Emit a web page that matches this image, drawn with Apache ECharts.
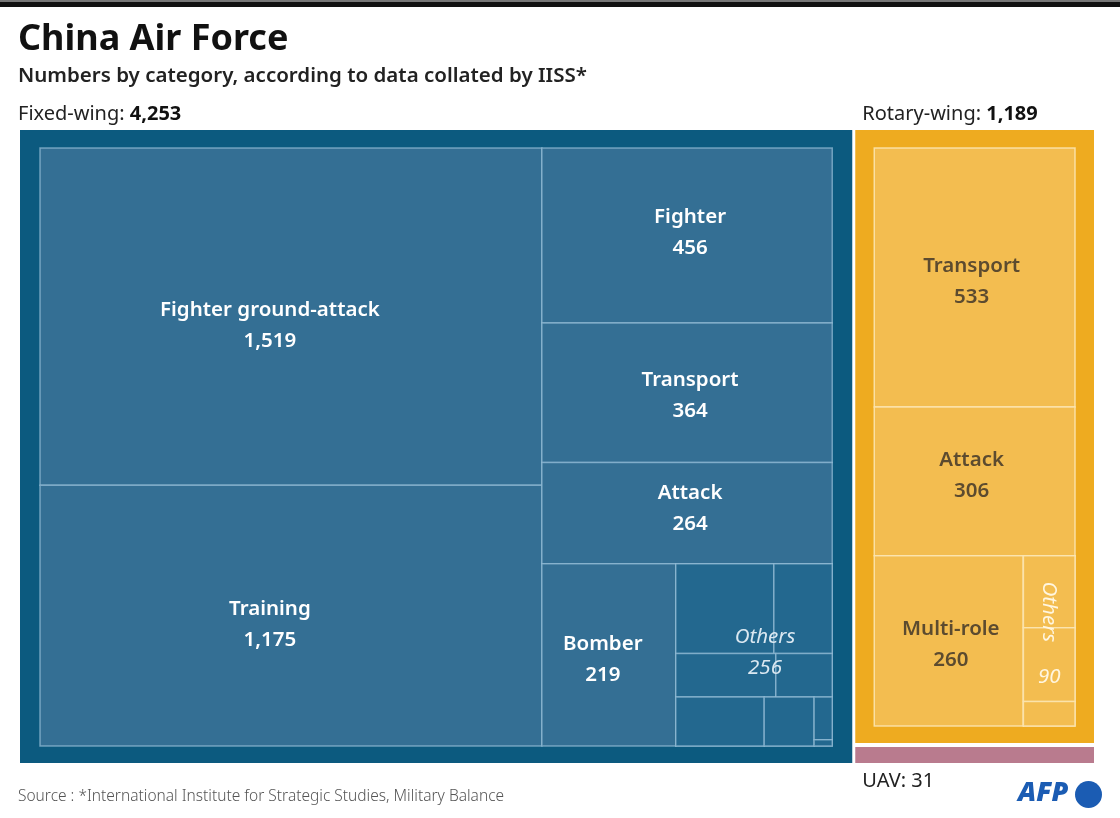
<!DOCTYPE html>
<html>
<head>
<meta charset="utf-8">
<script src="https://cdn.jsdelivr.net/npm/echarts@6/dist/echarts.min.js"></script>
<style>
  html, body { margin: 0; padding: 0; background: #ffffff; }
  #chart { width: 1120px; height: 818px; }
</style>
</head>
<body>
<div id="chart"></div>
<script>
// ---------------- DATA ----------------
const groupNames = ['Fixed-wing', 'Rotary-wing', 'UAV'];
const groupValues = [4253, 1189, 31];

const fixedNames = ['Fighter ground-attack', 'Training', 'Fighter', 'Transport', 'Attack', 'Bomber', 'Others'];
const fixedValues = [1519, 1175, 456, 364, 264, 219, 256];
const fixedOthersParts = [79, 47, 39, 22, 39, 22, 7, 1];

const rotaryNames = ['Transport', 'Attack', 'Multi-role', 'Others'];
const rotaryValues = [533, 306, 260, 90];
const rotaryOthersParts = [38, 39, 13];

// ---------------- STYLES ----------------
const C = {
  fixedFrame: '#0c5a7f',
  fixedCell: '#346f94',
  fixedSub: '#23688f',
  fixedLine: 'rgba(150,190,215,0.7)',
  rotFrame: '#eeab20',
  rotCell: '#f3bd50',
  rotLine: 'rgba(252,230,180,0.85)',
  uav: '#b97b8e',
  fixedText: '#ffffff',
  othersText: '#dbe8f1',
  rotText: '#5c4b2f',
  rotOthersText: '#fff6e0'
};
const FONT = '"Noto Sans", "Open Sans", sans-serif';
const LABEL_SIZE = 20.5;
const fmt = v => v.toLocaleString('en-US');

// ---------------- TREE (structure only; values come from arrays) ----------------
function leaf(value, style, label) { return { value, style, label }; }
function box(dir, children, opts) { return Object.assign({ dir, children }, opts || {}); }

const fixedCellStyle = { fill: C.fixedCell, stroke: C.fixedLine, lineWidth: 1.5 };
const fixedSubStyle = { fill: C.fixedSub, stroke: C.fixedLine, lineWidth: 1.5 };
const rotCellStyle = { fill: C.rotCell, stroke: C.rotLine, lineWidth: 1.5 };

function fLeaf(i, dx, dy) {
  return leaf(fixedValues[i], fixedCellStyle,
    { kind: 'cell', name: fixedNames[i], value: fixedValues[i], color: C.fixedText, dx: dx || 0, dy: dy || 0 });
}
function rLeaf(i, dx, dy) {
  return leaf(rotaryValues[i], rotCellStyle,
    { kind: 'cell', name: rotaryNames[i], value: rotaryValues[i], color: C.rotText, dx: dx || 0, dy: dy || 0 });
}
const fo = fixedOthersParts.map(v => leaf(v, fixedSubStyle));
const ro = rotaryOthersParts.map(v => leaf(v, rotCellStyle));

const fixedNode = box('h', [
  box('v', [fLeaf(0, -21, 9), fLeaf(1, -21, 9)]),
  box('v', [
    fLeaf(2, 3, -3), fLeaf(3, 3, 3), fLeaf(4, 3, -5),
    box('h', [
      fLeaf(5, -6, 5),
      box('v', [
        box('h', [fo[0], fo[1]]),
        box('h', [fo[2], fo[3]]),
        box('h', [fo[4], fo[5], box('v', [fo[6], fo[7]])])
      ], { style: fixedSubStyle,
           label: { kind: 'italic', name: fixedNames[6], value: fixedValues[6], color: C.othersText, dx: 11, dy: -2 } })
    ])
  ])
], { style: { fill: C.fixedFrame }, pad: [18, 20, 17, 20],
     label: { kind: 'header', name: groupNames[0], value: groupValues[0], pos: 'above', dx: -2, bold: true } });

const rotaryNode = box('v', [
  rLeaf(0, -3, 4), rLeaf(1, -3, -6),
  box('h', [
    rLeaf(2, 2, 4),
    box('v', ro, { style: rotCellStyle,
      label: { kind: 'vertical', name: rotaryNames[3], value: rotaryValues[3], color: C.rotOthersText } })
  ])
], { style: { fill: C.rotFrame }, pad: [18, 19, 17, 19],
     label: { kind: 'header', name: groupNames[1], value: groupValues[1], pos: 'above', dx: 7, bold: true } });

const uavNode = leaf(groupValues[2], { fill: C.uav },
  { kind: 'header', name: groupNames[2], value: groupValues[2], pos: 'below', dx: 7, bold: false });

const root = box('h', [fixedNode, box('v', [rotaryNode, uavNode], { gap: 4 })], { gap: 3 });

function sumTree(n) {
  if (n.children) n.value = n.children.reduce((s, c) => s + sumTree(c), 0);
  return n.value;
}
sumTree(root);

// flatten in draw order
const nodes = [];
(function walk(n) { nodes.push(n); (n.children || []).forEach(walk); })(root);
const labelNodes = nodes.filter(n => n.label);
const items = nodes.map(n => ({ type: 'rect', node: n }))
  .concat(labelNodes.map(n => ({ type: 'label', node: n })));

function layout(n, x, y, w, h) {
  n.rect = { x, y, w, h };
  if (!n.children) return;
  const p = n.pad || [0, 0, 0, 0];
  const ix = x + p[3], iy = y + p[0], iw = w - p[1] - p[3], ih = h - p[0] - p[2];
  const gap = n.gap || 0;
  const tot = n.children.reduce((s, c) => s + c.value, 0);
  const avail = (n.dir === 'h' ? iw : ih) - gap * (n.children.length - 1);
  let pos = n.dir === 'h' ? ix : iy;
  n.children.forEach(c => {
    const len = avail * c.value / tot;
    if (n.dir === 'h') layout(c, pos, iy, len, ih);
    else layout(c, ix, pos, iw, len);
    pos += len + gap;
  });
}

let cacheKey = '';
function ensureLayout(api) {
  const tl = api.coord([0, 1]);
  const br = api.coord([1, 0]);
  const key = tl.join(',') + '|' + br.join(',');
  if (key !== cacheKey) {
    layout(root, tl[0], tl[1], br[0] - tl[0], br[1] - tl[1]);
    cacheKey = key;
  }
}

function renderItem(params, api) {
  ensureLayout(api);
  const it = items[params.dataIndex];
  const n = it.node, r = n.rect;
  if (it.type === 'rect') {
    if (!n.style) return { type: 'group', children: [] };
    return {
      type: 'rect',
      shape: { x: r.x, y: r.y, width: r.w, height: r.h },
      style: Object.assign({}, n.style)
    };
  }
  const L = n.label;
  const cx = r.x + r.w / 2 + (L.dx || 0);
  const cy = r.y + r.h / 2 + (L.dy || 0);
  if (L.kind === 'cell' || L.kind === 'italic') {
    return {
      type: 'text',
      style: {
        text: L.name + '\n' + fmt(L.value),
        x: cx, y: cy,
        align: 'center', verticalAlign: 'middle',
        fill: L.color,
        fontFamily: FONT, fontSize: LABEL_SIZE,
        fontWeight: L.kind === 'italic' ? 'normal' : 600,
        fontStyle: L.kind === 'italic' ? 'italic' : 'normal',
        lineHeight: 31
      }
    };
  }
  if (L.kind === 'vertical') {
    return {
      type: 'group',
      children: [
        { type: 'text', x: cx, y: r.y + 56, rotation: -Math.PI / 2,
          style: { text: L.name, x: 0, y: 0, align: 'center', verticalAlign: 'middle',
                   fill: L.color, fontFamily: FONT, fontSize: LABEL_SIZE, fontStyle: 'italic' } },
        { type: 'text',
          style: { text: fmt(L.value), x: cx, y: r.y + 121, align: 'center', verticalAlign: 'middle',
                   fill: L.color, fontFamily: FONT, fontSize: LABEL_SIZE, fontStyle: 'italic' } }
      ]
    };
  }
  // header
  const hy = L.pos === 'above' ? r.y - 16 : r.y + r.h + 18;
  return {
    type: 'text',
    style: {
      text: '{a|' + L.name + ': }{b|' + fmt(L.value) + '}',
      x: r.x + (L.dx || 0), y: hy,
      align: 'left', verticalAlign: 'middle',
      rich: {
        a: { fontFamily: FONT, fontSize: 20, fill: '#222222' },
        b: { fontFamily: FONT, fontSize: 20, fontWeight: L.bold ? 'bold' : 'normal',
             fill: L.bold ? '#111111' : '#222222' }
      }
    }
  };
}

const chart = echarts.init(document.getElementById('chart'), null, { renderer: 'canvas' });
chart.setOption({
  backgroundColor: '#ffffff',
  animation: false,
  grid: { left: 20, right: 26, top: 130, bottom: 55 },
  xAxis: { type: 'value', min: 0, max: 1, show: false },
  yAxis: { type: 'value', min: 0, max: 1, show: false },
  series: [{
    type: 'custom',
    coordinateSystem: 'cartesian2d',
    renderItem: renderItem,
    clip: false,
    encode: { x: 0, y: 1 },
    data: items.map(() => [0.5, 0.5]),
    silent: true
  }],
  graphic: [
    { type: 'rect', left: 0, top: 0, shape: { width: 1120, height: 2 }, style: { fill: '#777777' } },
    { type: 'rect', left: 0, top: 2, shape: { width: 1120, height: 5 }, style: { fill: '#111111' } },
    { type: 'text', left: 18, top: 22,
      style: { text: 'China Air Force', fill: '#111111', fontFamily: FONT, fontSize: 36, fontWeight: 'bold' } },
    { type: 'text', left: 18, top: 66,
      style: { text: 'Numbers by category, according to data collated by IISS*', fill: '#222222',
               fontFamily: FONT, fontSize: 20.5, fontWeight: 600 } },
    { type: 'text', left: 18, top: 789,
      style: { text: 'Source : *International Institute for Strategic Studies, Military Balance',
               fill: '#555555', fontFamily: FONT, fontSize: 15.5, fontWeight: 300 } },
    { type: 'text', left: 1018, top: 780,
      style: { text: 'AFP', fill: '#1b5cb3', fontFamily: FONT, fontSize: 27,
               fontWeight: 900, fontStyle: 'italic' } },
    { type: 'circle', left: 1075, top: 781, shape: { r: 13.5 }, style: { fill: '#1b5cb3' } }
  ]
});
</script>
</body>
</html>
